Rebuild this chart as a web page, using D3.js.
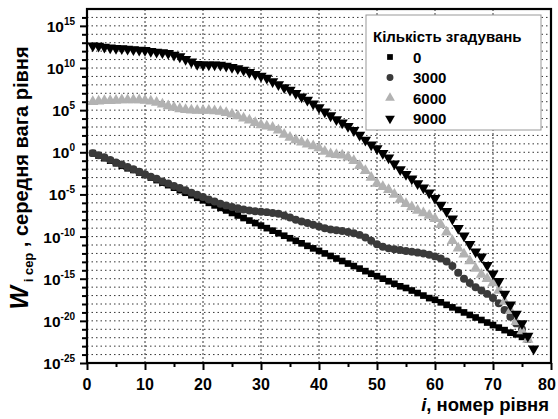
<!DOCTYPE html>
<html>
<head>
<meta charset="utf-8">
<script src="https://cdn.jsdelivr.net/npm/d3@7"></script>
<style>
  body { margin: 0; background: #fff; }
  text { font-family: "Liberation Sans", Arial, sans-serif; font-weight: bold; fill: #000; }
</style>
</head>
<body>
<div id="chart"></div>
<script>
// log10 of mean weight per level (level i starts at 1)
const series0 = [-0.1, -0.4, -0.7, -1.0, -1.3, -1.6, -1.9, -2.1, -2.4, -2.7, -3.0, -3.3, -3.6, -3.9, -4.2, -4.5, -4.8, -5.1, -5.4, -5.7,
    -6.0, -6.3, -6.6, -6.9, -7.2, -7.5, -7.8, -8.1, -8.4, -8.7, -9.0, -9.3, -9.6, -9.9, -10.2, -10.5, -10.8, -11.1, -11.4, -11.7,
    -12.0, -12.3, -12.6, -12.9, -13.2, -13.5, -13.8, -14.1, -14.4, -14.7, -15.0, -15.3, -15.6, -15.9, -16.1, -16.4, -16.7, -17.0, -17.3, -17.5,
    -17.8, -18.1, -18.4, -18.7, -19.0, -19.3, -19.6, -19.9, -20.2, -20.5, -20.8, -21.1, -21.4, -21.6, -21.9, -22.2];

const series3000 = [-0.1, -0.35, -0.6, -0.9, -1.2, -1.45, -1.75, -2.0, -2.3, -2.6, -2.9, -3.15, -3.45, -3.7, -4.0, -4.25, -4.5, -4.8, -5.05, -5.3,
    -5.6, -5.85, -6.1, -6.3, -6.5, -6.65, -6.8, -6.9, -7.0, -7.05, -7.1, -7.2, -7.3, -7.5, -7.75, -8.0, -8.2, -8.4, -8.6, -8.8,
    -9.0, -9.15, -9.25, -9.35, -9.45, -9.6, -9.8, -10.1, -10.5, -10.9, -11.2, -11.4, -11.5, -11.6, -11.7, -11.8, -11.9, -12.0, -12.15, -12.35,
    -12.6, -12.95, -13.5, -14.3, -15.0, -15.5, -16.0, -16.4, -16.8, -17.3, -17.9, -18.7, -19.5, -20.3, -21.0];

const series6000 = [6.0, 6.05, 6.1, 6.1, 6.15, 6.2, 6.2, 6.2, 6.2, 6.15, 6.05, 5.9, 5.7, 5.5, 5.3, 5.15, 5.05, 5.0, 4.95, 4.95,
    4.95, 4.9, 4.85, 4.7, 4.5, 4.3, 4.05, 3.8, 3.5, 3.25, 3.1, 2.95, 2.6, 2.1, 1.75, 1.45, 1.2, 0.95, 0.75, 0.5,
    0.1, -0.2, -0.3, -0.35, -0.6, -1.0, -1.6, -2.2, -3.0, -3.7, -4.1, -4.45, -5.0, -5.6, -6.1, -6.5, -6.9, -7.2, -7.5, -7.9,
    -8.6, -9.5, -10.5, -11.4, -12.1, -12.9, -13.8, -14.5, -15.0, -15.5, -16.4, -17.7, -18.8, -20.1, -21.2, -22.2];

const series9000 = [12.65, 12.6, 12.5, 12.4, 12.35, 12.3, 12.25, 12.2, 12.15, 12.1, 12.0, 11.9, 11.85, 11.75, 11.55, 11.35, 11.05, 10.75, 10.45, 10.4,
    10.4, 10.4, 10.35, 10.25, 10.1, 9.95, 9.75, 9.5, 9.25, 9.05, 8.8, 8.4, 8.05, 7.7, 7.4, 7.0, 6.6, 6.2, 5.75, 5.3,
    4.8, 4.35, 3.9, 3.5, 3.1, 2.6, 2.05, 1.45, 0.9, 0.45, -0.1, -0.65, -1.35, -2.05, -2.6, -3.15, -3.7, -4.2, -4.8, -5.45,
    -6.25, -7.0, -7.9, -9.0, -9.9, -10.9, -11.8, -12.4, -13.4, -14.4, -15.3, -16.8, -18.1, -19.2, -20.3, -21.8, -23.3];

const seriesNames = ["0", "3000", "6000", "9000"];
const xTicks = [0, 10, 20, 30, 40, 50, 60, 70, 80];
const yExponents = [15, 10, 5, 0, -5, -10, -15, -20, -25];

const width = 558;
const height = 419;
const margin = { top: 9, right: 7, bottom: 56, left: 87 };
const innerW = width - margin.left - margin.right;
const innerH = height - margin.top - margin.bottom;

const svg = d3.select("#chart")
    .append("svg")
    .attr("width", width)
    .attr("height", height);

const g = svg.append("g")
    .attr("transform", `translate(${margin.left},${margin.top})`);

// Scales
const xScale = d3.scaleLinear().domain([0, 80]).range([0, innerW]);
const yScale = d3.scaleLog().domain([1e-25, 1e17]).range([innerH, 0]);

// Grid
const decades = d3.range(-24, 17).map(e => Math.pow(10, e));
g.append("g")
    .selectAll("line")
    .data(decades)
    .join("line")
    .attr("x1", 0).attr("x2", innerW)
    .attr("y1", d => yScale(d)).attr("y2", d => yScale(d))
    .attr("stroke", "#000")
    .attr("stroke-width", 0.8)
    .attr("stroke-dasharray", "1.5,3");

g.append("g")
    .selectAll("line")
    .data(xTicks.slice(1, -1))
    .join("line")
    .attr("x1", d => xScale(d)).attr("x2", d => xScale(d))
    .attr("y1", 0).attr("y2", innerH)
    .attr("stroke", "#000")
    .attr("stroke-width", 0.8)
    .attr("stroke-dasharray", "2,2");

// Data series
const symbols = [
    { name: seriesNames[0], values: series0, type: d3.symbolSquare, size: 44, color: "#000", rot: 0 },
    { name: seriesNames[1], values: series3000, type: d3.symbolCircle, size: 50, color: "#3a3a3a", rot: 0 },
    { name: seriesNames[2], values: series6000, type: d3.symbolTriangle, size: 55, color: "#b2b2b2", rot: 0 },
    { name: seriesNames[3], values: series9000, type: d3.symbolTriangle, size: 55, color: "#000", rot: 180 }
];

symbols.forEach(s => {
    const pts = s.values.map((v, i) => ({ i: i + 1, w: Math.pow(10, v) }));
    g.append("g")
        .selectAll("path")
        .data(pts)
        .join("path")
        .attr("d", d3.symbol().type(s.type).size(s.size))
        .attr("transform", d => `translate(${xScale(d.i)},${yScale(d.w)}) rotate(${s.rot})`)
        .attr("fill", s.color);
});

// Axes
const xAxis = g.append("g")
    .attr("transform", `translate(0,${innerH})`)
    .call(d3.axisBottom(xScale).tickValues(d3.range(0, 81, 5)).tickSize(6).tickFormat(""));
xAxis.selectAll(".tick line")
    .attr("stroke-width", 2)
    .attr("y2", d => d % 10 === 0 ? 7 : 4);
xAxis.select(".domain").remove();

// last label would run off the page, so keep it inside
xAxis.selectAll(".lbl")
    .data(xTicks)
    .join("text")
    .attr("class", "lbl")
    .attr("x", d => Math.min(xScale(d), innerW - 4))
    .attr("y", 27)
    .attr("text-anchor", "middle")
    .style("font-size", "16px")
    .text(d => d);

const yAxis = g.append("g")
    .call(d3.axisLeft(yScale).tickValues(decades.concat([1e-25])).tickSize(6).tickFormat(""));
yAxis.selectAll(".tick line")
    .attr("stroke-width", 2)
    .attr("x2", d => Math.round(Math.log10(d)) % 5 === 0 ? -7 : -5);
yAxis.select(".domain").remove();

const yLabels = yAxis.selectAll(".lbl")
    .data(yExponents)
    .join("text")
    .attr("class", "lbl")
    .attr("x", -12)
    .attr("y", d => yScale(Math.pow(10, d)) + 6)
    .attr("text-anchor", "end")
    .style("font-size", "15.5px");
yLabels.append("tspan").text("10");
yLabels.append("tspan")
    .attr("dy", -7)
    .style("font-size", "10px")
    .text(d => d);

// Frame
g.append("rect")
    .attr("x", 0).attr("y", 0)
    .attr("width", innerW).attr("height", innerH)
    .attr("fill", "none")
    .attr("stroke", "#000")
    .attr("stroke-width", 2.2);

// Legend
const legend = svg.append("g").attr("transform", "translate(366,15)");
legend.append("rect")
    .attr("width", 175).attr("height", 115)
    .attr("fill", "#fff")
    .attr("stroke", "#999")
    .attr("stroke-width", 1);
legend.append("text")
    .attr("x", 7).attr("y", 27)
    .style("font-size", "15px")
    .text("Кількість згадувань");
symbols.forEach((s, k) => {
    const yy = 42 + k * 20.5;
    legend.append("path")
        .attr("d", d3.symbol().type(s.type).size(s.size * 0.75))
        .attr("transform", `translate(24,${yy}) rotate(${s.rot})`)
        .attr("fill", s.color);
    legend.append("text")
        .attr("x", 47).attr("y", yy + 5.5)
        .style("font-size", "15px")
        .text(s.name);
});

// Axis titles
const yTitle = svg.append("text")
    .attr("transform", "translate(28,178) rotate(-90)")
    .attr("text-anchor", "middle");
yTitle.append("tspan").style("font-size", "25px").style("font-style", "italic").text("W");
yTitle.append("tspan").attr("dy", 5).style("font-size", "13px").text(" i сер");
yTitle.append("tspan").attr("dy", -5).style("font-size", "20px").text(" , середня вага рівня");

const xTitle = svg.append("text")
    .attr("x", 549).attr("y", 411)
    .attr("text-anchor", "end")
    .style("font-size", "18.5px");
xTitle.append("tspan").style("font-style", "italic").text("i");
xTitle.append("tspan").text(", номер рівня");
</script>
</body>
</html>
